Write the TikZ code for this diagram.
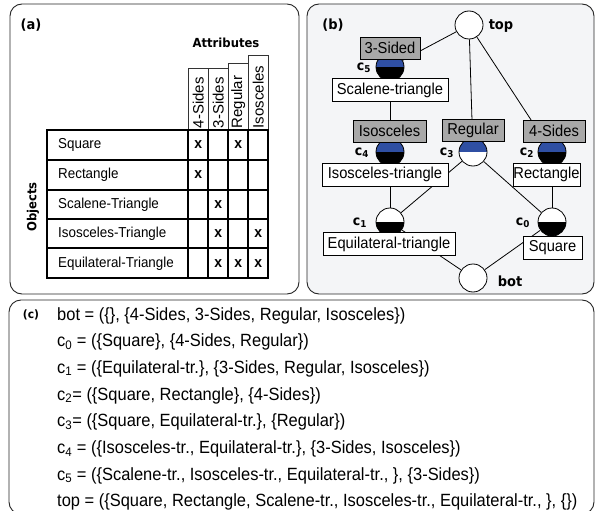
\documentclass[tikz,border=0pt]{standalone}
\usepackage{fontspec}
\setmainfont{Liberation Sans}[FakeStretch=0.93]
\newfontfamily\bfam{DejaVu Sans}[FakeStretch=0.93]
\newfontfamily\vfam{Liberation Sans}
\newcommand\fPanelC{\fontsize{17.7}{19}\selectfont}
\newcommand\fLab{\fontsize{15.8}{17}\selectfont}
\newcommand\fTab{\fontsize{14.4}{16}\selectfont}
\newcommand\fX{\fontsize{15}{16}\selectfont\bfseries}
\newcommand\fHead{\vfam\fontsize{15}{16}\selectfont}
\newcommand\fBold{\bfam\bfseries\fontsize{12.5}{14}\selectfont}
\newcommand\fBoldP{\bfam\bfseries\fontsize{14}{15}\selectfont}
\newcommand\fBoldC{\bfam\bfseries\fontsize{13.5}{14}\selectfont}
\newcommand\fBoldS{\bfam\bfseries\fontsize{11.5}{12}\selectfont}
\definecolor{agray}{HTML}{A8A8A8}
\definecolor{cblue}{HTML}{2F4FA3}
\definecolor{bbg}{HTML}{F4F5F7}
\pgfdeclarelayer{panels}
\pgfdeclarelayer{edges}
\pgfsetlayers{panels,edges,main}
\begin{document}
\begin{tikzpicture}[x=1pt,y=-1pt,
  panel/.style={draw=black!85, line width=0.9pt, rounded corners=12pt},
  tabline/.style={line width=1.8pt, line cap=rect},
  hbox/.style={draw=black!80, line width=0.8pt},
  rowlab/.style={anchor=west, inner sep=0pt, font=\fTab},
  xmark/.style={inner sep=0pt, font=\fX},
  headlab/.style={rotate=90, anchor=west, inner sep=1pt, font=\fHead},
  boldlab/.style={inner sep=0pt, font=\fBold},
  plab/.style={inner sep=0pt, font=\fBoldP},
  clab/.style={inner sep=0pt, font=\fBoldC},
  edge/.style={draw, line width=0.8pt},
  concept/.style={circle, draw, line width=0.8pt, fill=white, minimum size=28pt, inner sep=0pt},
  halves/.style 2 args={path picture={
     \fill[#1] (path picture bounding box.north west) rectangle (path picture bounding box.east);
     \fill[#2] (path picture bounding box.west) rectangle (path picture bounding box.south east);}},
  attrbox/.style={draw, line width=0.8pt, fill=agray, font=\fLab, inner sep=0pt, minimum height=22pt, minimum width=#1},
  objbox/.style={draw, line width=0.8pt, fill=white, font=\fLab, inner sep=0pt, minimum height=23pt, minimum width=#1},
  ctext/.style={anchor=base west, inner sep=0pt, font=\fPanelC}
]
\useasboundingbox (0,0) rectangle (595,511);

% ---------- panels ----------
\begin{pgfonlayer}{panels}
  \draw[panel, fill=white] (10,4) rectangle (299,294);
  \draw[panel, fill=bbg] (307,4) rectangle (594,294);
  \draw[panel, fill=white] (9,300) rectangle (594,514);
\end{pgfonlayer}

% ---------- panel (a) ----------
\node[plab] (pa) at (31,25) {(a)};
\node[boldlab] (attr) at (226,43) {Attributes};
\node[boldlab, rotate=90] (objs) at (33,207) {Objects};

% header boxes
\draw[hbox] (188.3,68.3) rectangle (208.3,130);
\draw[hbox] (208.3,68.3) rectangle (228.3,130);
\draw[hbox] (228.3,63.3) rectangle (248.3,130);
\draw[hbox] (248.3,55) rectangle (268.3,130);
\node[headlab] (h1) at (198.3,129.5) {4-Sides};
\node[headlab] (h2) at (218.3,129.5) {3-Sides};
\node[headlab] (h3) at (238.3,129.5) {Regular};
\node[headlab] (h4) at (258.3,129.5) {Isosceles};

% table
\draw[tabline] (46.7,130) rectangle (268.3,278.3);
\foreach \yy in {160,190,219.3,248.3} \draw[tabline] (46.7,\yy) -- (268.3,\yy);
\foreach \xx in {188.3,208.3,228.3,248.3} \draw[tabline] (\xx,130) -- (\xx,278.3);

\node[rowlab] (r1) at (58,145) {Square};
\node[rowlab] (r2) at (58,175) {Rectangle};
\node[rowlab] (r3) at (58,204.7) {Scalene-Triangle};
\node[rowlab] (r4) at (58,233.8) {Isosceles-Triangle};
\node[rowlab] (r5) at (58,263.3) {Equilateral-Triangle};

\node[xmark] (x11) at (198.3,145) {x};
\node[xmark] (x13) at (238.3,145) {x};
\node[xmark] (x21) at (198.3,175) {x};
\node[xmark] (x32) at (218.3,204.7) {x};
\node[xmark] (x42) at (218.3,233.8) {x};
\node[xmark] (x44) at (258.3,233.8) {x};
\node[xmark] (x52) at (218.3,263.3) {x};
\node[xmark] (x53) at (238.3,263.3) {x};
\node[xmark] (x54) at (258.3,263.3) {x};

% ---------- panel (b) ----------
\node[plab] (pb) at (333,25) {(b)};

\node[concept] (top) at (469,25) {};
\node[concept, halves={cblue}{black}] (c5) at (390,67) {};
\node[concept, halves={cblue}{black}] (c4) at (390,152) {};
\node[concept, halves={cblue}{white}] (c3) at (473,152) {};
\node[concept, halves={cblue}{black}] (c2) at (552,152) {};
\node[concept, halves={white}{black}] (c1) at (390,222) {};
\node[concept, halves={white}{black}] (c0) at (552,222) {};
\node[concept] (bot) at (473,278) {};

\node[plab] (ltop) at (501,26) {top};
\node[plab] (lbot) at (510,281) {bot};
\node[clab] (l5) at (364,68) {c\textsubscript{5}};
\node[clab] (l4) at (362,153) {c\textsubscript{4}};
\node[clab] (l3) at (447,153) {c\textsubscript{3}};
\node[clab] (l2) at (527,153) {c\textsubscript{2}};
\node[clab] (l1) at (360,223) {c\textsubscript{1}};
\node[clab] (l0) at (523,223) {c\textsubscript{0}};

\node[attrbox=60] (a5) at (390,48) {3-Sided};
\node[attrbox=73] (a4) at (389.5,131) {Isosceles};
\node[attrbox=62] (a3) at (473,130) {Regular};
\node[attrbox=62] (a2) at (554,131) {4-Sides};

\node[objbox=116] (o5) at (390,90) {Scalene-triangle};
\node[objbox=126] (o4) at (385,174.5) {Isosceles-triangle};
\node[objbox=67] (o2) at (546.5,174.5) {Rectangle};
\node[objbox=132] (o1) at (389,244) {Equilateral-triangle};
\node[objbox=59] (o0) at (552.5,248) {Square};

\begin{pgfonlayer}{edges}
  \draw[edge] (top) -- (c5);
  \draw[edge] (top) -- (c3);
  \draw[edge] (top) -- (c2);
  \draw[edge] (c5) -- (c4);
  \draw[edge] (c4) -- (c1);
  \draw[edge] (c3) -- (c1);
  \draw[edge] (c3) -- (c0);
  \draw[edge] (c2) -- (c0);
  \draw[edge] (c1) -- (bot);
  \draw[edge] (c0) -- (bot);
\end{pgfonlayer}

% ---------- panel (c) ----------
\node[inner sep=0pt, font=\fBoldS] (pc) at (31,315) {(c)};
\node[ctext] (t0) at (57,320) {bot = (\{\}, \{4-Sides, 3-Sides, Regular, Isosceles\})};
\node[ctext] (t1) at (57,346.7) {c\textsubscript{0} = (\{Square\}, \{4-Sides, Regular\})};
\node[ctext] (t2) at (57,373.4) {c\textsubscript{1} = (\{Equilateral-tr.\}, \{3-Sides, Regular, Isosceles\})};
\node[ctext] (t3) at (57,400.1) {c\textsubscript{2}= (\{Square, Rectangle\}, \{4-Sides\})};
\node[ctext] (t4) at (57,426.8) {c\textsubscript{3}= (\{Square, Equilateral-tr.\}, \{Regular\})};
\node[ctext] (t5) at (57,453.5) {c\textsubscript{4} = (\{Isosceles-tr., Equilateral-tr.\}, \{3-Sides, Isosceles\})};
\node[ctext] (t6) at (57,480.2) {c\textsubscript{5} = (\{Scalene-tr., Isosceles-tr., Equilateral-tr., \}, \{3-Sides\})};
\node[ctext] (t7) at (57,506.9) {top = (\{Square, Rectangle, Scalene-tr., Isosceles-tr., Equilateral-tr., \}, \{\})};
\end{tikzpicture}
\end{document}
